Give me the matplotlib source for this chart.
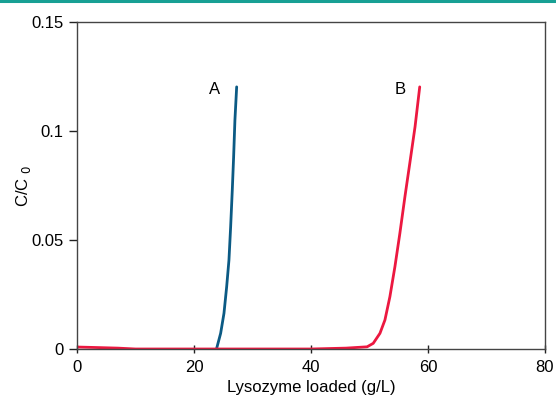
import matplotlib
matplotlib.use("Agg")
import matplotlib.pyplot as plt
from matplotlib.lines import Line2D

plt.rcParams['font.family'] = ['Liberation Sans', 'DejaVu Sans']

# Curve A (blue) - breakthrough readings
a_x = [23.88, 24.56, 25.13, 25.59, 25.98, 26.27, 26.55, 26.78, 27.0, 27.3]
a_y = [0.0003, 0.0072, 0.0164, 0.0286, 0.0408, 0.0561, 0.0729, 0.0882, 0.105, 0.1203]

# Curve B (red) - breakthrough readings
b_x = [0.0, 3.0, 7.0, 10.0, 20.0, 30.0, 40.0, 46.0, 49.6, 50.65, 51.8, 52.65,
       53.5, 54.36, 55.2, 56.07, 56.9, 57.8, 58.6]
b_y = [0.0009, 0.0007, 0.0004, 0.0, 0.0, 0.0, 0.0, 0.0004, 0.001, 0.0026,
       0.0072, 0.0133, 0.024, 0.0378, 0.053, 0.0699, 0.0852, 0.102, 0.1203]

x_ticks = [0, 20, 40, 60, 80]
y_ticks = [0, 0.05, 0.1, 0.15]
y_tick_labels = ["0", "0.05", "0.1", "0.15"]

fig = plt.figure(figsize=(5.56, 4.03), dpi=100)
ax = fig.add_axes([0.1385, 0.134, 0.8415, 0.811])

# teal rule across the top of the figure
fig.add_artist(Line2D([0, 1], [0.997, 0.997], transform=fig.transFigure,
                      color="#17a094", linewidth=2.2))

ax.plot(a_x, a_y, color="#0b5a84", linewidth=2.0, solid_capstyle="round")
ax.plot(b_x, b_y, color="#ec1840", linewidth=2.0, solid_capstyle="round")

ax.text(23.6, 0.119, "A", fontsize=12, ha="center", va="center")
ax.text(55.2, 0.119, "B", fontsize=12, ha="center", va="center")

ax.set_xlim(0, 80)
ax.set_ylim(0, 0.15)
ax.set_xticks(x_ticks)
ax.set_yticks(y_ticks)
ax.set_yticklabels(y_tick_labels)
ax.tick_params(axis="x", direction="inout", length=6, labelsize=12, width=1,
               color="#222222", pad=5)
ax.tick_params(axis="y", direction="out", length=6, labelsize=12, width=1,
               color="#222222")
for s in ax.spines.values():
    s.set_color("#444444")
    s.set_linewidth(1.0)

ax.set_xlabel("Lysozyme loaded (g/L)", fontsize=12)
ax.set_ylabel("C/C $_{0}$", fontsize=12)
ax.xaxis.set_label_coords(0.5, -0.095)
ax.yaxis.set_label_coords(-0.094, 0.5)

fig.savefig("out.png", dpi=100)
